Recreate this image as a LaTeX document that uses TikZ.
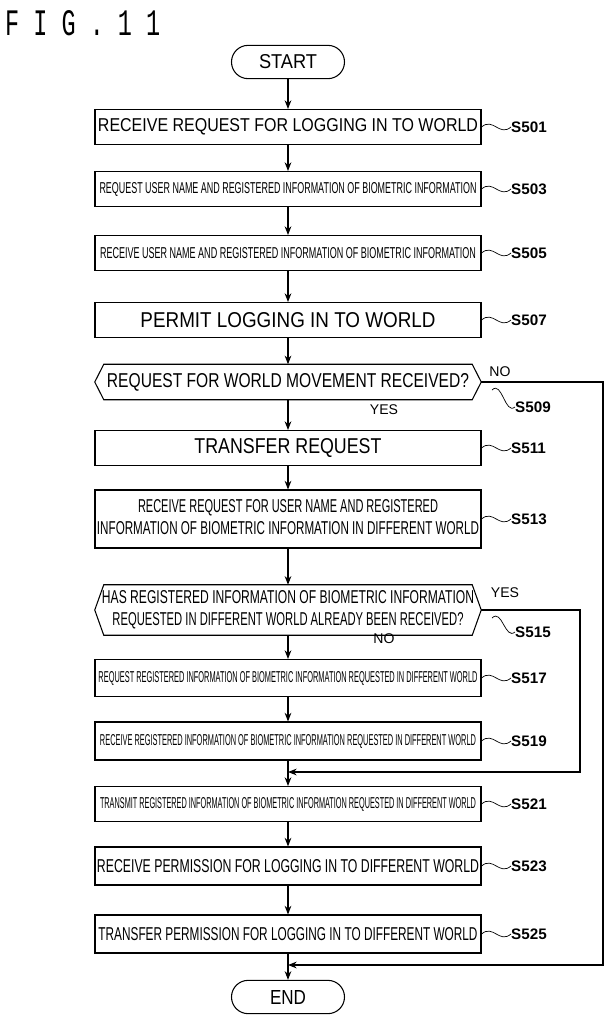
\documentclass[tikz,border=0pt]{standalone}
\usepackage{fontspec}
\setmainfont{Liberation Sans}
\usepackage{graphicx}
\usetikzlibrary{arrows.meta}
\newcommand\fitt[3]{\resizebox{\dimexpr0.03cm*#1\relax}{\dimexpr0.03cm*#2\relax}{#3}}
\begin{document}
\begin{tikzpicture}[x=0.03cm,y=-0.03cm,
 box/.style={draw,line width=0.9pt,minimum width=11.58cm,inner sep=0},
 hx/.style={minimum width=11.58cm,inner sep=0},
 term/.style={draw,line width=0.9pt,rounded corners=0.5cm,minimum width=3.39cm,minimum height=1cm,inner sep=0},
 lab/.style={anchor=west,inner sep=0,font=\fontsize{13}{13}\selectfont\bfseries},
 yn/.style={inner sep=0,font=\fontsize{12}{12}\selectfont},
 ar/.style={line width=0.9pt,-{Stealth[length=2.6mm,width=2mm]}},
 ln/.style={line width=0.9pt},
 sq/.style={line width=0.6pt}]
\useasboundingbox (0,0) rectangle (609,1024);
\node[anchor=north west,inner sep=0] (fig) at (5,10) {\fitt{155}{25}{\fontspec{Liberation Mono}F I G . 1 1}};
\node[term] (start) at (288,62) {\fitt{58}{14}{START}};
\node[box,minimum height=1.05cm] (s501) at (288,127) {\fitt{380}{13}{RECEIVE REQUEST FOR LOGGING IN TO WORLD}};
\node[box,minimum height=1.05cm] (s503) at (288,189) {\fitt{377}{11}{REQUEST USER NAME AND REGISTERED INFORMATION OF BIOMETRIC INFORMATION}};
\node[box,minimum height=1.05cm] (s505) at (288,253) {\fitt{376}{11}{RECEIVE USER NAME AND REGISTERED INFORMATION OF BIOMETRIC INFORMATION}};
\node[box,minimum height=1.05cm] (s507) at (288,320) {\fitt{295}{15}{PERMIT LOGGING IN TO WORLD}};
\node[hx,minimum height=1.05cm] (s509) at (288,382) {\fitt{362}{14}{REQUEST FOR WORLD MOVEMENT RECEIVED?}};
\draw[ln] (s509.west) -- ([xshift=0.27cm]s509.north west) -- ([xshift=-0.27cm]s509.north east) -- (s509.east) -- ([xshift=-0.27cm]s509.south east) -- ([xshift=0.27cm]s509.south west) -- cycle;
\node[box,minimum height=1.05cm] (s511) at (288,448) {\fitt{187}{15}{TRANSFER REQUEST}};
\node[box,minimum height=1.74cm] (s513) at (288,519) {\begin{tabular}{@{}c@{}}\fitt{300}{13}{RECEIVE REQUEST FOR USER NAME AND REGISTERED}\\[0.12cm]\fitt{382}{13}{INFORMATION OF BIOMETRIC INFORMATION IN DIFFERENT WORLD}\end{tabular}};
\node[hx,minimum height=1.5cm] (s515) at (288,610) {\begin{tabular}{@{}c@{}}\fitt{372}{13}{HAS REGISTERED INFORMATION OF BIOMETRIC INFORMATION}\\[0.12cm]\fitt{351}{13}{REQUESTED IN DIFFERENT WORLD ALREADY BEEN RECEIVED?}\end{tabular}};
\draw[ln] (s515.west) -- ([xshift=0.27cm]s515.north west) -- ([xshift=-0.27cm]s515.north east) -- (s515.east) -- ([xshift=-0.27cm]s515.south east) -- ([xshift=0.27cm]s515.south west) -- cycle;
\node[box,minimum height=1.11cm] (s517) at (288,678) {\fitt{379}{11}{REQUEST REGISTERED INFORMATION OF BIOMETRIC INFORMATION REQUESTED IN DIFFERENT WORLD}};
\node[box,minimum height=1.14cm] (s519) at (288,741) {\fitt{376}{11}{RECEIVE REGISTERED INFORMATION OF BIOMETRIC INFORMATION REQUESTED IN DIFFERENT WORLD}};
\node[box,minimum height=1.05cm] (s521) at (288,804) {\fitt{376}{11}{TRANSMIT REGISTERED INFORMATION OF BIOMETRIC INFORMATION REQUESTED IN DIFFERENT WORLD}};
\node[box,minimum height=1.14cm] (s523) at (288,866) {\fitt{382}{13}{RECEIVE PERMISSION FOR LOGGING IN TO DIFFERENT WORLD}};
\node[box,minimum height=1.14cm] (s525) at (288,934) {\fitt{379}{13}{TRANSFER PERMISSION FOR LOGGING IN TO DIFFERENT WORLD}};
\node[term] (end) at (288,997) {\fitt{36}{14}{END}};
% arrows
\draw[ar] (start) -- (s501);
\draw[ar] (s501) -- (s503);
\draw[ar] (s503) -- (s505);
\draw[ar] (s505) -- (s507);
\draw[ar] (s507) -- (s509);
\draw[ar] (s509) -- (s511);
\draw[ar] (s511) -- (s513);
\draw[ar] (s513) -- (s515);
\draw[ar] (s515) -- (s517);
\draw[ar] (s517) -- (s519);
\draw[ar] (s519) -- (s521);
\draw[ar] (s521) -- (s523);
\draw[ar] (s523) -- (s525);
\draw[ar] (s525) -- (end);
\coordinate (j1) at (288,772);
\coordinate (j2) at (288,965);
\draw[ar] (s515.east) -- (580,610) -- (580,772) -- (j1);
\draw[ar] (s509.east) -- (603,382) -- (603,965) -- (j2);
% yes/no
\node[yn] (no1) at (500,372) {NO};
\node[yn] (yes1) at (384,410) {YES};
\node[yn] (yes2) at (505,593) {YES};
\node[yn] (no2) at (384,639) {NO};
% labels
\foreach \n/\y in {501/127,503/189,505/253,507/320,511/448,513/519,517/678,519/741,521/804,523/866,525/934}{
 \node[lab] (l\n) at (511,\y) {S\n};
 \draw[sq] (s\n.east) .. controls +(0.35cm,0.3cm) and +(-0.35cm,-0.3cm) .. (l\n.west);
}
\node[lab] (l509) at (515,407) {S509};
\draw[sq] (492,390) .. controls +(0.3cm,0.3cm) and +(-0.3cm,-0.25cm) .. (l509.west);
\node[lab] (l515) at (515,632) {S515};
\draw[sq] (492,618) .. controls +(0.3cm,0.3cm) and +(-0.3cm,-0.25cm) .. (l515.west);
\end{tikzpicture}
\end{document}
